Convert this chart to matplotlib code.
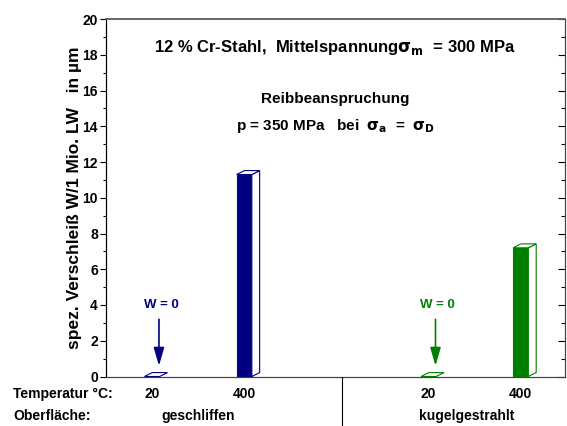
import matplotlib

matplotlib.use("Agg")
import matplotlib.pyplot as plt
import matplotlib.transforms as mtransforms
from matplotlib.patches import Polygon
from matplotlib.lines import Line2D

# data
positions = [1.0, 3.0, 7.0, 9.0]
temperatures = ["20", "400", "20", "400"]
wear = [0.0, 11.3, 0.0, 7.2]
bar_colors = ["#000080", "#000080", "#008000", "#008000"]
surfaces = ["geschliffen", "kugelgestrahlt"]
surface_pos = [2.0, 7.83]
group_split = 5.12

plt.rcParams["font.family"] = ["Liberation Sans", "DejaVu Sans"]
plt.rcParams["font.weight"] = "bold"

fig = plt.figure(figsize=(5.67, 4.26), dpi=100)
ax = fig.add_axes([105.5 / 567, 49.5 / 426, 459.5 / 567, 357.5 / 426])
ax.set_xlim(-0.01, 9.96)
ax.set_ylim(0, 20)

width = 0.33
dx, dy = 0.17, 0.22
for x, h, c in zip(positions, wear, bar_colors):
    x0, x1 = x - width / 2, x + width / 2
    if h > 0:
        ax.add_patch(Polygon([(x0, 0), (x1, 0), (x1, h), (x0, h)], closed=True,
                             facecolor=c, edgecolor=c, lw=0.8, zorder=3))
        ax.add_patch(Polygon([(x1, 0), (x1 + dx, dy), (x1 + dx, h + dy), (x1, h)], closed=True,
                             facecolor="white", edgecolor=c, lw=0.8, zorder=3))
    ax.add_patch(Polygon([(x0, h), (x1, h), (x1 + dx, h + dy), (x0 + dx, h + dy)], closed=True,
                         facecolor="white", edgecolor=c, lw=0.8, zorder=3, clip_on=False))

# W = 0 markers
for x, h, c in zip(positions, wear, bar_colors):
    if h == 0:
        ax.annotate("", xy=(x + 0.15, 0.6), xytext=(x + 0.15, 3.2),
                    arrowprops=dict(arrowstyle="-|>,head_width=0.32,head_length=1.1",
                                    color=c, lw=1.2, shrinkA=0, shrinkB=0))
        ax.text(x + 0.2, 4.0, "W = 0", color=c, fontsize=9.5, fontweight="bold",
                ha="center", va="center")

ax.set_ylabel("spez. Verschleiß W/1 Mio. LW   in µm", fontsize=12.5, fontweight="bold")
ax.yaxis.set_label_coords(-0.051, 0.5)
ax.set_yticks(range(0, 21, 2))
ax.set_yticks(range(1, 20, 2), minor=True)
ax.tick_params(axis="y", which="major", direction="out", length=4, labelsize=10, width=0.8, pad=1.5)
ax.tick_params(axis="y", which="minor", direction="out", length=2.5, width=0.8)
ax.set_xticks([])
for lab in ax.get_yticklabels():
    lab.set_fontweight("bold")

ax2 = ax.twinx()
ax2.set_ylim(0, 20)
ax2.set_yticks(range(0, 21, 2))
ax2.set_yticks(range(1, 20, 2), minor=True)
ax2.tick_params(axis="y", which="major", direction="in", length=5, labelright=False, width=0.8)
ax2.tick_params(axis="y", which="minor", direction="in", length=3, width=0.8)

for a in (ax, ax2):
    a.spines["top"].set_color("#666666")
    a.spines["top"].set_linewidth(1.2)
    a.spines["right"].set_color("#444444")
    a.spines["bottom"].set_color("#444444")

ax.text(0.5, 0.92, r"12 % Cr-Stahl,  Mittelspannung$\mathbf{\sigma_m}$  = 300 MPa",
        transform=ax.transAxes, ha="center", va="center", fontsize=12, fontweight="bold")
ax.text(0.5, 0.775, "Reibbeanspruchung", transform=ax.transAxes, ha="center",
        va="center", fontsize=11, fontweight="bold")
ax.text(0.5, 0.7, r"p = 350 MPa   bei  $\mathbf{\sigma_a}$  =  $\mathbf{\sigma_D}$",
        transform=ax.transAxes, ha="center", va="center", fontsize=11, fontweight="bold")

# category labels below axis
trans = mtransforms.blended_transform_factory(ax.transData, fig.transFigure)
fig.text(13 / 567, 1 - 394 / 426, "Temperatur °C:", fontsize=10, fontweight="bold", va="center")
fig.text(13 / 567, 1 - 416 / 426, "Oberfläche:", fontsize=10, fontweight="bold", va="center")
for x, t in zip(positions, temperatures):
    ax.text(x, 1 - 394 / 426, t, transform=trans, ha="center", va="center",
            fontsize=10, fontweight="bold")
for x, s in zip(surface_pos, surfaces):
    ax.text(x, 1 - 416 / 426, s, transform=trans, ha="center", va="center",
            fontsize=10, fontweight="bold")

sep = Line2D([group_split, group_split], [49.5 / 426, 0.0], transform=trans,
             color="black", lw=0.8, clip_on=False)
fig.add_artist(sep)

fig.savefig("out.png", dpi=100)
